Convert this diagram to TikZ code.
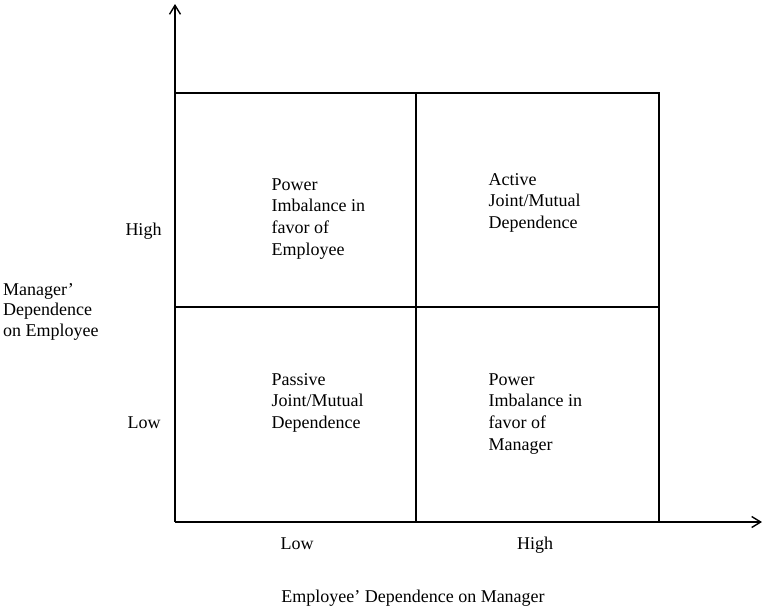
\documentclass[tikz,border=0pt]{standalone}
\usepackage{fontspec}
\setmainfont{Liberation Serif}
\usetikzlibrary{arrows.meta}
\begin{document}
\begin{tikzpicture}[x=1pt,y=-1pt,
  axis/.style={line width=1.6pt, -{Straight Barb[length=9pt,width=11pt,line width=1.4pt]}},
  gridline/.style={line width=1.6pt},
  lbl/.style={font=\fontsize{18}{21.6}\selectfont, inner sep=0pt, align=left, anchor=base west},
  side/.style={font=\fontsize{18}{20.4}\selectfont, inner sep=0pt, align=left, anchor=base west},
  tick/.style={font=\fontsize{18}{21.6}\selectfont, inner sep=0pt, anchor=base}]
\useasboundingbox (0,0) rectangle (765,608);
% axes
\coordinate (O) at (175,522);
\coordinate (ytip) at (175,4);
\coordinate (xtip) at (762,522);
\draw[axis] (O) -- (ytip);
\draw[axis] (O) -- (xtip);
% grid
\coordinate (TL) at (175,93);
\coordinate (TR) at (659,93);
\coordinate (BR) at (659,522);
\coordinate (ML) at (175,307);
\coordinate (MR) at (659,307);
\coordinate (MT) at (416,93);
\coordinate (MB) at (416,522);
\draw[gridline] (TL) -- (TR) -- (BR);
\draw[gridline] (ML) -- (MR);
\draw[gridline] (MT) -- (MB);
% cell texts (anchored at the baseline of the last line)
\node[lbl] (c1) at (271.5,255) {Power\\Imbalance in\\favor of\\Employee};
\node[lbl] (c2) at (488.5,228.5) {Active\\Joint/Mutual\\Dependence};
\node[lbl] (c3) at (271.5,428.5) {Passive\\Joint/Mutual\\Dependence};
\node[lbl] (c4) at (488.5,450) {Power\\Imbalance in\\favor of\\Manager};
% axis labels
\node[tick] (yhigh) at (143.5,235) {High};
\node[tick] (ylow) at (144,428) {Low};
\node[tick] (xlow) at (297,549) {Low};
\node[tick] (xhigh) at (535,549) {High};
\node[side] (ylab) at (3,336) {Manager’\\Dependence\\on Employee};
\node[tick] (xlab) at (413,602) {Employee’ Dependence on Manager};
\end{tikzpicture}
\end{document}
